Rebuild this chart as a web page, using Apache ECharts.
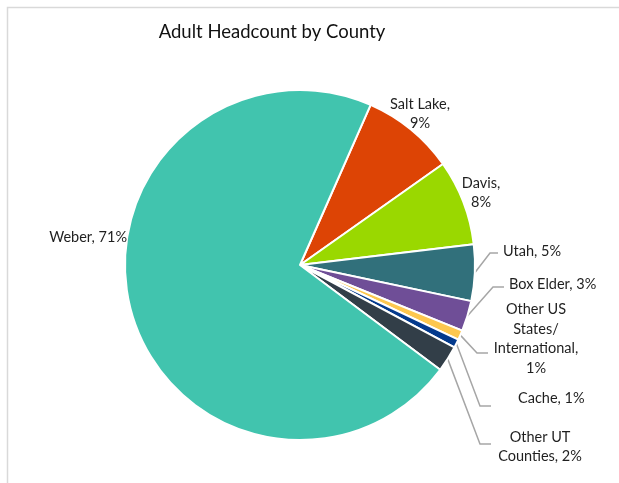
<!DOCTYPE html>
<html>
<head>
<meta charset="utf-8">
<script src="https://cdn.jsdelivr.net/npm/echarts@6/dist/echarts.min.js"></script>
<style>
  html, body { margin: 0; padding: 0; background: #fff; }
  #chart { width: 619px; height: 483px; }
</style>
</head>
<body>
<div id="chart"></div>
<script>
// ---- data ----
const categories = ['Salt Lake', 'Davis', 'Utah', 'Box Elder', 'Other US States/ International', 'Cache', 'Other UT Counties', 'Weber'];
const shares = [8.6, 7.9, 5.2, 2.8, 0.9, 0.8, 2.4, 71.4];
const labelTexts = ['Salt Lake,\n9%', 'Davis,\n8%', 'Utah, 5%', 'Box Elder, 3%', 'Other US\nStates/\nInternational,\n1%', 'Cache, 1%', 'Other UT\nCounties, 2%', 'Weber, 71%'];
const colors = ['#DD4405', '#9AD800', '#31707B', '#6F4E97', '#FDC74F', '#043A8D', '#323E48', '#41C4AE'];

// ---- layout (label placement, not data) ----
const labelPlacement = [
  { x: 420, y: 114, align: 'center', line: null },
  { x: 481, y: 193, align: 'center', line: null },
  { x: 503, y: 251, align: 'left', line: [[490, 253], [498, 253]] },
  { x: 509, y: 284, align: 'left', line: [[493, 287], [504, 287]] },
  { x: 536, y: 339, align: 'center', line: [[477, 353], [488, 353]] },
  { x: 518, y: 398, align: 'left', line: [[480, 406], [491, 406]] },
  { x: 540, y: 447, align: 'center', line: [[480, 444], [491, 444]] },
  { x: 127, y: 237, align: 'right', line: null }
];

const FONT = 'Lato';
const chart = echarts.init(document.getElementById('chart'), null, { renderer: 'canvas' });

const data = categories.map((c, i) => ({
  name: c,
  value: shares[i],
  itemStyle: { color: colors[i] },
  label: { formatter: labelTexts[i] },
  labelLine: { show: !!labelPlacement[i].line }
}));

chart.setOption({
  animation: false,
  backgroundColor: '#ffffff',
  graphic: [
    { type: 'rect', shape: { x: 7.5, y: 7.5, width: 700, height: 600 }, style: { fill: 'none', stroke: '#D9D9D9', lineWidth: 1.5 }, silent: true, z: -1 },
    { type: 'text', x: 272, y: 32, style: { text: 'Adult Headcount by County', font: '18.5px ' + FONT, fill: '#111111', textAlign: 'center', textVerticalAlign: 'middle' } }
  ],
  series: [{
    type: 'pie',
    center: [300, 265],
    radius: [0, 175],
    startAngle: 66.2,
    clockwise: true,
    avoidLabelOverlap: false,
    itemStyle: { borderColor: '#ffffff', borderWidth: 2 },
    label: {
      show: true,
      position: 'outside',
      fontFamily: FONT,
      fontSize: 14.5,
      lineHeight: 19.5,
      color: '#1f1f1f'
    },
    labelLine: { show: true, lineStyle: { color: '#A6A6A6', width: 1.5 } },
    labelLayout: function (params) {
      const p = labelPlacement[params.dataIndex];
      const out = { x: p.x, y: p.y, align: p.align, verticalAlign: 'middle' };
      if (p.line && params.labelLinePoints) {
        out.labelLinePoints = [params.labelLinePoints[0], p.line[0], p.line[1]];
      }
      return out;
    },
    data: data
  }]
});
</script>
</body>
</html>
